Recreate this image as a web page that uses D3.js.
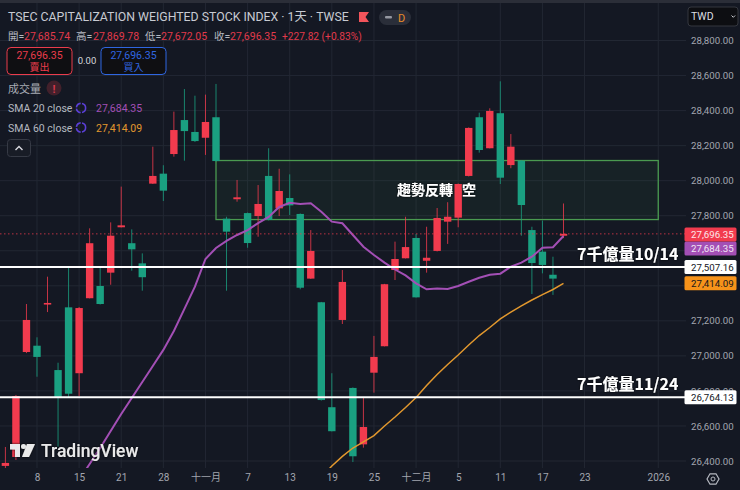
<!DOCTYPE html>
<html><head><meta charset="utf-8">
<style>html,body{margin:0;padding:0;background:#141823;overflow:hidden}svg{display:block}</style>
<script src="https://cdn.jsdelivr.net/npm/d3@7"></script></head><body>
<svg id="c" width="740" height="490"></svg>
<script>
const dates=["10/02","10/03","10/07","10/08","10/09","10/13","10/14","10/15","10/16","10/17","10/20","10/21","10/22","10/23","10/27","10/28","10/29","10/30","10/31","11/03","11/04","11/05","11/06","11/07","11/10","11/11","11/12","11/13","11/14","11/17","11/18","11/19","11/20","11/21","11/24","11/25","11/26","11/27","11/28","12/01","12/02","12/03","12/04","12/05","12/08","12/09","12/10","12/11","12/12","12/15","12/16","12/17","12/18","12/19","12/22","12/23","12/24","12/25","12/26","12/29","12/30","12/31","01/02","01/05","01/06","01/07"];
const opens=[26372,26423,27022,27058,27296,26919,27277,26901,27329,27399,27475,27734,27643,27528,27983,28040,28152,28346,28278,28245,28362,27783,27894,27815,27798,28027,27842,27901,27810,27441,27306,26707,27205,26817,26495,26904,27055,27490,27557,27673,27543,27599,27766,27789,28027,28362,28185,28385,28089,28114,27718,27595,27463,27685.74];
const closes=[26389,26771,27205,26994,27302,26760,26784,27273,27643,27296,27686,27745,27608,27449,28027,27943,28289,28283,28226,28335,28112,27709,27905,27644,27867,27776,27941,27859,27389,27599,26748,26570,27422,26427,26594,26994,27409,27553,27621,27334,27560,27787,27794,27981,28301,28175,28398,28017,28194,27861,27530,27519,27441,27696.35];
const highs=[26480,26777,27296,27106,27452,26961,27502,27279,27728,27509,27762,27966,27722,27585,28194,28088,28394,28523,28485,28491,28552,27794,28004,27818,27975,28185,28068,28036,27813,27718,27308,26901,27490,26820,26761,27114,27411,27652,27794,27696,27737,27844,27877,27984,28304,28388,28413,28567,28266,28117,27737,27772,27566,27869.78];
const lows=[26360,26406,27016,26881,27250,26482,26765,26771,27328,27293,27406,27733,27486,27372,27981,27884,28137,28114,28221,28147,28109,27372,27880,27617,27680,27773,27798,27804,27380,27439,26745,26569,27182,26394,26476,26790,27054,27433,27556,27333,27475,27596,27639,27734,28024,28160,28184,27981,28071,27686,27353,27471,27348,27672.05];
const sma20=[null,null,null,null,null,null,null,26292,26383,26474,26571,26668,26760,26851,26942,27034,27142,27268,27395,27553,27616,27656,27690,27718,27758,27793,27850,27874,27867,27871,27823,27766,27757,27690,27623,27576,27532,27493,27459,27414,27380,27385,27382,27399,27423,27446,27463,27469,27509,27532,27566,27617,27620,27684.35];
const sma60=[null,null,null,null,null,null,null,null,null,null,null,null,null,null,null,null,null,null,null,null,null,null,null,null,null,null,null,null,null,null,26303,26372,26426,26474,26509,26545,26600,26651,26705,26762,26831,26894,26951,27005,27062,27116,27162,27211,27250,27285,27319,27350,27379,27414.09];
const priceTicks=[28800,28600,28400,28200,28000,27800,27600,27400,27200,27000,26800,26600,26400];
const priceLabelTicks=[28800,28600,28400,28200,28000,27800,27200,27000,26800,26600,26400];
const timeTickDates=["10/08","10/15","10/21","10/28","11/03","11/07","11/13","11/19","11/25","12/01","12/05","12/11","12/17","12/23","01/02"];
const timeTickLabels=["8","15","21","28","十一月","7","13","19","25","十二月","5","11","17","23","2026"];
const levelValues=[27507.16,26764.13];
const levelNotes=["7千億量10/14","7千億量11/24"];
const zoneTopBottom=[28115,27778];
const zoneDates=["11/04","01/02"];
const lastPrice=27696.35;
const TF='Roboto,"Noto Sans CJK TC",sans-serif';
const svg=d3.select("#c");
const W=740,H=490,paneR=686,paneB=468;
const x=d3.scalePoint().domain(dates).range([5.4,5.4+10.53*(dates.length-1)]);
const y=d3.scaleLinear().domain([26400,28800]).range([461,40.5]);
svg.append("rect").attr("width",W).attr("height",H).attr("fill","#141823");
svg.append("rect").attr("width",W).attr("height",3).attr("fill","#2b2e38");
const defs=svg.append("defs");
defs.append("clipPath").attr("id","pane").append("rect").attr("x",0).attr("y",3).attr("width",paneR).attr("height",paneB-3);
const blur=defs.append("filter").attr("id","halo").attr("x","-10%").attr("y","-30%").attr("width","120%").attr("height","160%");
blur.append("feDropShadow").attr("dx",0).attr("dy",0).attr("stdDeviation",1.2).attr("flood-color","#000").attr("flood-opacity",0.9);
const grid=svg.append("g").attr("stroke","#222733").attr("stroke-width",1);
grid.selectAll("line.h").data(priceTicks).join("line").attr("class","h").attr("x1",0).attr("x2",paneR).attr("y1",d=>y(d)).attr("y2",d=>y(d));
grid.selectAll("line.v").data(timeTickDates).join("line").attr("class","v").attr("x1",d=>x(d)).attr("x2",d=>x(d)).attr("y1",3).attr("y2",paneB);
const pane=svg.append("g").attr("clip-path","url(#pane)");
pane.append("rect").attr("x",x(zoneDates[0])).attr("width",x(zoneDates[1])-x(zoneDates[0])).attr("y",y(zoneTopBottom[0])).attr("height",y(zoneTopBottom[1])-y(zoneTopBottom[0])).attr("fill","rgba(76,175,80,0.07)").attr("stroke","#4a9a50").attr("stroke-width",1.3);
const UP="#f23b4e",DN="#1aa081";
const idx=d3.range(opens.length);
const col=i=>closes[i]>=opens[i]?UP:DN;
pane.append("g").selectAll("line").data(idx).join("line").attr("x1",i=>x(dates[i])).attr("x2",i=>x(dates[i])).attr("y1",i=>y(highs[i])).attr("y2",i=>y(lows[i])).attr("stroke",col).attr("stroke-width",1).attr("stroke-opacity",.8);
pane.append("g").selectAll("rect").data(idx).join("rect").attr("x",i=>x(dates[i])-3.7).attr("width",7.4).attr("y",i=>y(Math.max(opens[i],closes[i]))).attr("height",i=>Math.max(1.6,Math.abs(y(opens[i])-y(closes[i])))).attr("fill",col);
const mk=a=>d3.line().defined((d,i)=>a[i]!=null).x((d,i)=>x(dates[i])).y((d,i)=>y(a[i]))(a);
pane.append("path").attr("d",mk(sma20)).attr("fill","none").attr("stroke","#a34fb5").attr("stroke-width",2);
pane.append("path").attr("d",mk(sma60)).attr("fill","none").attr("stroke","#e2982e").attr("stroke-width",1.5);
pane.append("line").attr("x1",0).attr("x2",paneR).attr("y1",y(lastPrice)).attr("y2",y(lastPrice)).attr("stroke","#f23b4e").attr("stroke-opacity",.75).attr("stroke-width",1).attr("stroke-dasharray","1.5 2.5");
pane.selectAll("line.lv").data(levelValues).join("line").attr("class","lv").attr("x1",0).attr("x2",paneR).attr("y1",d=>y(d)).attr("y2",d=>y(d)).attr("stroke","#fff").attr("stroke-width",2);
const bold=(s,xp,yp,fs,anc)=>svg.append("text").attr("x",xp).attr("y",yp).attr("fill","#fff").attr("font-family",'"Noto Sans CJK TC",sans-serif').attr("font-weight",700).attr("font-size",fs).attr("text-anchor",anc||"start").attr("filter","url(#halo)").attr("xml:space","preserve").style("white-space","pre").text(s);
bold("趨勢反轉",397,195,14);
bold("空",462,195,14);
bold(levelNotes[0],577,260,16);
bold(levelNotes[1],577,390,16);
const ya=d3.axisRight(y).tickValues(priceLabelTicks).tickFormat(d3.format(",.2f")).tickSize(0).tickPadding(0);
const yg=svg.append("g").attr("transform","translate(691,0)").call(ya);
yg.select(".domain").remove();
yg.selectAll("text").attr("fill","#a3a6af").attr("font-family",TF).attr("font-size",9.7);
const xa=d3.axisBottom(x).tickValues(timeTickDates).tickFormat((d,i)=>timeTickLabels[i]).tickSize(0).tickPadding(0);
const xg=svg.append("g").attr("transform","translate(0,473.5)").call(xa);
xg.select(".domain").remove();
xg.selectAll("text").attr("fill","#a3a6af").attr("font-family",TF).attr("font-size",10);
const tags=[[27414.09,"#f7931a","#14161d"],[27507.16,"#ffffff","#14161d"],[26764.13,"#ffffff","#14161d"],[27684.35,"#a34fb5","#f1e6f4"],[27696.35,"#f23b4e","#fde8ea"]];
const tg=svg.append("g");
tags.forEach(([v,bg,fg],i)=>{
  let yy=y(v); if(i==3) yy=248.5; if(i==4) yy=234.5;
  tg.append("rect").attr("x",684.5).attr("y",yy-7).attr("width",52).attr("height",14).attr("rx",1.5).attr("fill",bg);
  tg.append("text").attr("x",691).attr("y",yy+3.5).attr("fill",fg).attr("font-family",TF).attr("font-size",9.7).text(d3.format(",.2f")(v));
});
const T=(s,xp,yp,fs,fill,extra)=>{const t=svg.append("text").attr("x",xp).attr("y",yp).attr("font-family",TF).attr("font-size",fs).attr("fill",fill).text(s); if(extra)for(const k in extra)t.attr(k,extra[k]);return t;};
T("TSEC CAPITALIZATION WEIGHTED STOCK INDEX · 1天 · TWSE",8,21,12.3,"#c8cbd2");
const RED="#e23a4b",GRY="#b5b8c0";
[["開=",8,GRY,10.5],["27,685.74",24,RED,10.5],["高=",76,GRY,10.5],["27,869.78",93,RED,10.5],["低=",145,GRY,10.5],["27,672.05",161,RED,10.5],["收=",214,GRY,10.5],["27,696.35",230,RED,10.5],["+227.82 (+0.83%)",282,RED,10.2]].forEach(a=>T(a[0],a[1],40,a[3],a[2]));
svg.append("path").attr("d","M359,12H369L365.5,17L369,22H359Z").attr("fill","#f2545b");
svg.append("rect").attr("x",379).attr("y",10).attr("width",32).attr("height",15).attr("rx",7.5).attr("fill","#2a2e39");
svg.append("rect").attr("x",385).attr("y",16).attr("width",7).attr("height",2.4).attr("rx",1).attr("fill","#9598a1");
T("D",398,22,11,"#e88b2a");
const btn=(xp,c,a,b)=>{svg.append("rect").attr("x",xp).attr("y",47.5).attr("width",65).attr("height",27).attr("rx",4).attr("fill","#0f0f12").attr("stroke",c).attr("stroke-width",1);
 T(a,xp+32.5,59,10.5,c,{"text-anchor":"middle"});T(b,xp+32.5,71,10,c,{"text-anchor":"middle"});};
btn(7,"#ea3c4c","27,696.35","賣出");
btn(101,"#2f66e0","27,696.35","買入");
T("0.00",87,64,9.5,"#d5d7dc",{"text-anchor":"middle"});
T("成交量",8,93,11,"#a8abb3");
svg.append("circle").attr("cx",54).attr("cy",88).attr("r",7.5).attr("fill","#42202b");
T("!",54,92.5,11,"#d6384b",{"text-anchor":"middle","font-weight":700});
[["SMA 20 close","27,684.35","#a34fb5",108],["SMA 60 close","27,414.09","#e2982e",127.5]].forEach(r=>{
 T(r[0],8,r[3]+4,10.5,"#b5b8c0");
 svg.append("circle").attr("cx",81).attr("cy",r[3]).attr("r",4.6).attr("fill","none").attr("stroke","#5b3fd6").attr("stroke-width",1.6).attr("stroke-dasharray","6 1.4");
 T(r[1],96,r[3]+4,10.5,r[2]);
});
svg.append("rect").attr("x",7.5).attr("y",139.5).attr("width",23).attr("height",17).attr("rx",3).attr("fill","#181c26").attr("stroke","#363a45");
svg.append("path").attr("d","M15.5,150L19,146.5L22.5,150").attr("fill","none").attr("stroke","#d8dae0").attr("stroke-width",1.4);
svg.append("rect").attr("x",688).attr("y",7).attr("width",50).attr("height",19).attr("rx",3).attr("fill","#0d0e12").attr("stroke","#34373f");
T("TWD",691,20,10.5,"#dcdee3");
svg.append("path").attr("d","M731.5,15.5L733.3,17.3L735.1,15.5").attr("fill","none").attr("stroke","#c8cad0").attr("stroke-width",1);
svg.append("path").attr("d","M707,479L710,473.8H716L719,479L716,484.2H710Z").attr("fill","none").attr("stroke","#b5b8c0").attr("stroke-width",1.2);
svg.append("circle").attr("cx",713).attr("cy",479).attr("r",2).attr("fill","none").attr("stroke","#b5b8c0").attr("stroke-width",1);
const lg=svg.append("g").attr("filter","url(#halo)").attr("fill","#e9e9ea");
lg.append("path").attr("d","M10,444H20V457H15V449.5H10Z");
lg.append("circle").attr("cx",23.5).attr("cy",446.5).attr("r",2.5);
lg.append("path").attr("d","M27,444H35L29,457H22Z");
T("TradingView",41,457,17.5,"#e9e9ea",{"font-weight":500,filter:"url(#halo)"});
</script></body></html>
